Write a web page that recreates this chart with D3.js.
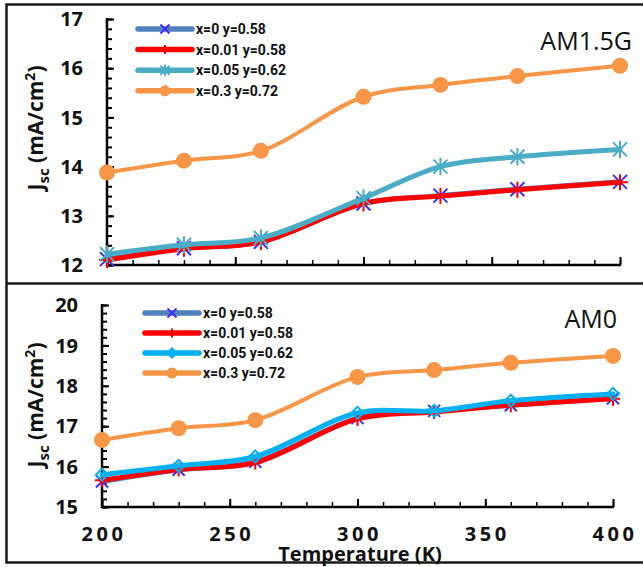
<!DOCTYPE html>
<html>
<head>
<meta charset="utf-8">
<script src="https://cdn.jsdelivr.net/npm/d3@7"></script>
<style>
  body { margin: 0; background: #fff; }
  svg { display: block; }
  .tick-label { font-family: "Open Sans", sans-serif; font-weight: 700; font-size: 20px; fill: #111; }
  .legend-text { font-family: Roboto, sans-serif; font-weight: 700; font-size: 14px; fill: #111; }
  .panel-title { font-family: "Open Sans", sans-serif; font-size: 25px; fill: #111; }
  .axis-title { font-family: "Open Sans", sans-serif; font-weight: 700; font-size: 21px; fill: #111; }
</style>
</head>
<body>
<div id="chart"></div>
<script>
// temperatures (K)
const temps = [200, 230, 260, 300, 330, 360, 400];

// series labels
const seriesNames = ["x=0 y=0.58", "x=0.01 y=0.58", "x=0.05 y=0.62", "x=0.3 y=0.72"];

// Jsc under AM1.5G (mA/cm2)
const am15_x0    = [12.12, 12.34, 12.47, 13.25, 13.41, 13.54, 13.69];
const am15_x001  = [12.10, 12.33, 12.47, 13.25, 13.40, 13.53, 13.68];
const am15_x005  = [12.22, 12.41, 12.55, 13.36, 14.00, 14.20, 14.35];
const am15_x03   = [13.88, 14.12, 14.32, 15.42, 15.66, 15.84, 16.05];

// Jsc under AM0 (mA/cm2)
const am0_x0     = [15.63, 15.92, 16.12, 17.20, 17.38, 17.52, 17.69];
const am0_x001   = [15.66, 15.93, 16.10, 17.18, 17.35, 17.52, 17.68];
const am0_x005   = [15.80, 16.02, 16.25, 17.33, 17.38, 17.63, 17.80];
const am0_x03    = [16.66, 16.95, 17.15, 18.22, 18.39, 18.57, 18.74];

const xTicks = [200, 250, 300, 350, 400];
const yTicksTop = [12, 13, 14, 15, 16, 17];
const yTicksBottom = [15, 16, 17, 18, 19, 20];

const W = 643, H = 567;
const svg = d3.select("#chart").append("svg")
  .attr("width", W)
  .attr("height", H);

svg.append("rect").attr("width", W).attr("height", H).attr("fill", "#fff");

// outer frame and divider
svg.append("path")
  .attr("d", `M643,4.5 H6.5 V562.5 H643 M6.5,283.5 H643`)
  .attr("fill", "none")
  .attr("stroke", "#1a1a1a")
  .attr("stroke-width", 2.5);

// marker shapes
function markerPath(type, s) {
  if (type === "x") return `M${-s},${-s}L${s},${s}M${-s},${s}L${s},${-s}`;
  if (type === "plus") return `M0,${-s}V${s}M${-s},0H${s}`;
  if (type === "star") return `M${-s},${-s}L${s},${s}M${-s},${s}L${s},${-s}M0,${-s * 1.25}V${s * 1.25}`;
  if (type === "diamond") return `M0,${-s}L${s},0L0,${s}L${-s},0Z`;
  return "";
}

function drawPanel(cfg) {
  const x = d3.scaleLinear().domain([200, 400]).range([cfg.left, cfg.right]);
  const y = d3.scaleLinear().domain(cfg.yDomain).range([cfg.bottom, cfg.top]);
  const g = svg.append("g");

  // y axis with inward ticks
  const yMinor = d3.range(cfg.yDomain[0], cfg.yDomain[1] + 0.001, 0.2);
  g.append("g")
    .attr("transform", `translate(${cfg.left},0)`)
    .call(d3.axisRight(y).tickValues(yMinor).tickSize(5).tickFormat(""))
    .call(a => a.select(".domain").remove())
    .call(a => a.selectAll("line").attr("stroke", "#000").attr("stroke-width", 2));
  g.append("g")
    .attr("transform", `translate(${cfg.left},0)`)
    .call(d3.axisRight(y).tickValues(cfg.yTicks).tickSize(7).tickFormat(""))
    .call(a => a.select(".domain").remove())
    .call(a => a.selectAll("line").attr("stroke", "#000").attr("stroke-width", 2));
  g.append("line")
    .attr("x1", cfg.left).attr("x2", cfg.left)
    .attr("y1", y(cfg.yDomain[1]) - 1).attr("y2", y(cfg.yDomain[0]) + 1)
    .attr("stroke", "#000").attr("stroke-width", 2.5);

  g.selectAll("text.ylab")
    .data(cfg.yTicks)
    .join("text")
    .attr("class", "tick-label")
    .attr("x", cfg.left - 24)
    .attr("y", d => y(d))
    .attr("dy", "0.36em")
    .attr("text-anchor", "end")
    .text(d => d);

  // x axis with inward ticks
  const xMinor = d3.range(200, 401, 10);
  g.append("g")
    .attr("transform", `translate(0,${cfg.bottom})`)
    .call(d3.axisTop(x).tickValues(xMinor).tickSize(5).tickFormat(""))
    .call(a => a.select(".domain").remove())
    .call(a => a.selectAll("line").attr("stroke", "#000").attr("stroke-width", 1.5));
  g.append("g")
    .attr("transform", `translate(0,${cfg.bottom})`)
    .call(d3.axisTop(x).tickValues(xTicks).tickSize(8).tickFormat(""))
    .call(a => a.select(".domain").remove())
    .call(a => a.selectAll("line").attr("stroke", "#000").attr("stroke-width", 2));
  g.append("line")
    .attr("x1", cfg.left).attr("x2", cfg.right + 1)
    .attr("y1", cfg.bottom).attr("y2", cfg.bottom)
    .attr("stroke", "#000").attr("stroke-width", 2.5);

  if (cfg.showXLabels) {
    g.selectAll("text.xlab")
      .data(xTicks)
      .join("text")
      .attr("class", "tick-label")
      .attr("x", d => x(d) + 2)
      .attr("y", cfg.bottom + 34)
      .attr("text-anchor", "middle")
      .style("letter-spacing", "3.5px")
      .text(d => d);
  }

  // y title
  const yt = g.append("text")
    .attr("class", "axis-title")
    .attr("transform", `translate(${cfg.yTitleX},${cfg.yTitleY}) rotate(-90)`)
    .attr("text-anchor", "middle");
  yt.append("tspan").text("J");
  yt.append("tspan").attr("dy", 6).style("font-size", "15px").text("sc");
  yt.append("tspan").attr("dy", -6).text(" (mA/cm");
  yt.append("tspan").attr("dy", -8).style("font-size", "14px").text("2");
  yt.append("tspan").attr("dy", 8).text(")");

  // panel title
  g.append("text")
    .attr("class", "panel-title")
    .attr("x", cfg.titleX)
    .attr("y", cfg.titleY)
    .attr("text-anchor", "end")
    .text(cfg.title);

  const line = d3.line()
    .x((d, i) => x(temps[i]))
    .y(d => y(d))
    .curve(d3.curveCatmullRom.alpha(0.5));

  // series lines and markers, drawn in order
  cfg.series.forEach(s => {
    g.append("path")
      .datum(s.values)
      .attr("d", line)
      .attr("fill", "none")
      .attr("stroke", s.color)
      .attr("stroke-width", s.width)
      .attr("stroke-linejoin", "round")
      .attr("stroke-linecap", "round");

    const m = g.append("g");
    s.values.forEach((v, i) => {
      if (s.marker === "circle") {
        m.append("circle")
          .attr("cx", x(temps[i])).attr("cy", y(v))
          .attr("r", s.size)
          .attr("fill", s.mColor);
      } else {
        m.append("path")
          .attr("transform", `translate(${x(temps[i])},${y(v)})`)
          .attr("d", markerPath(s.marker, s.size))
          .attr("fill", "none")
          .attr("stroke", s.mColor)
          .attr("stroke-width", 2);
      }
    });
  });

  // legend
  const lg = g.append("g");
  cfg.series.forEach((s, i) => {
    const ly = cfg.legendY + i * cfg.legendGap;
    const row = lg.append("g");
    row.append("line")
      .attr("x1", cfg.legendX).attr("x2", cfg.legendX + 54)
      .attr("y1", ly).attr("y2", ly)
      .attr("stroke", s.color)
      .attr("stroke-width", 5.5)
      .attr("stroke-linecap", "round");
    const mx = cfg.legendX + 27;
    if (s.marker === "circle") {
      row.append("circle").attr("cx", mx).attr("cy", ly).attr("r", 5.5).attr("fill", s.mColor);
    } else {
      row.append("path")
        .attr("transform", `translate(${mx},${ly})`)
        .attr("d", markerPath(s.marker, 4.5))
        .attr("fill", "none")
        .attr("stroke", s.mColor)
        .attr("stroke-width", 2);
    }
    row.append("text")
      .attr("class", "legend-text")
      .attr("x", cfg.legendX + 58)
      .attr("y", ly)
      .attr("dy", "0.36em")
      .text(seriesNames[i]);
  });
}

const blueMarker = "#4a2cf0";

drawPanel({
  left: 107, right: 620, top: 19, bottom: 265,
  yDomain: [12, 17], yTicks: yTicksTop,
  showXLabels: false,
  yTitleX: 43, yTitleY: 128,
  title: "AM1.5G", titleX: 632, titleY: 50,
  legendX: 138, legendY: 29, legendGap: 20.6,
  series: [
    { values: am15_x0,   color: "#4f81bd", width: 5,   marker: "x",      mColor: blueMarker, size: 7 },
    { values: am15_x001, color: "#ff0000", width: 5,   marker: "plus",   mColor: "#ff0000",  size: 8 },
    { values: am15_x005, color: "#4bacc6", width: 5,   marker: "star",   mColor: "#4bacc6",  size: 7 },
    { values: am15_x03,  color: "#f79646", width: 4,   marker: "circle", mColor: "#f79646",  size: 8 }
  ]
});

drawPanel({
  left: 102, right: 613, top: 305, bottom: 507,
  yDomain: [15, 20], yTicks: yTicksBottom,
  showXLabels: true,
  yTitleX: 43, yTitleY: 405,
  title: "AM0", titleX: 617, titleY: 328,
  legendX: 145, legendY: 313, legendGap: 20,
  series: [
    { values: am0_x0,   color: "#4f81bd", width: 5, marker: "x",       mColor: blueMarker, size: 6 },
    { values: am0_x001, color: "#ff0000", width: 5, marker: "plus",    mColor: "#ff0000",  size: 7 },
    { values: am0_x005, color: "#00b0f0", width: 5, marker: "diamond", mColor: "#00b0f0",  size: 6 },
    { values: am0_x03,  color: "#f79646", width: 4, marker: "circle",  mColor: "#f79646",  size: 8 }
  ]
});

// x axis title
svg.append("text")
  .attr("class", "axis-title")
  .attr("x", 360)
  .attr("y", 561)
  .attr("text-anchor", "middle")
  .style("font-size", "20px")
  .text("Temperature (K)");
</script>
</body>
</html>
